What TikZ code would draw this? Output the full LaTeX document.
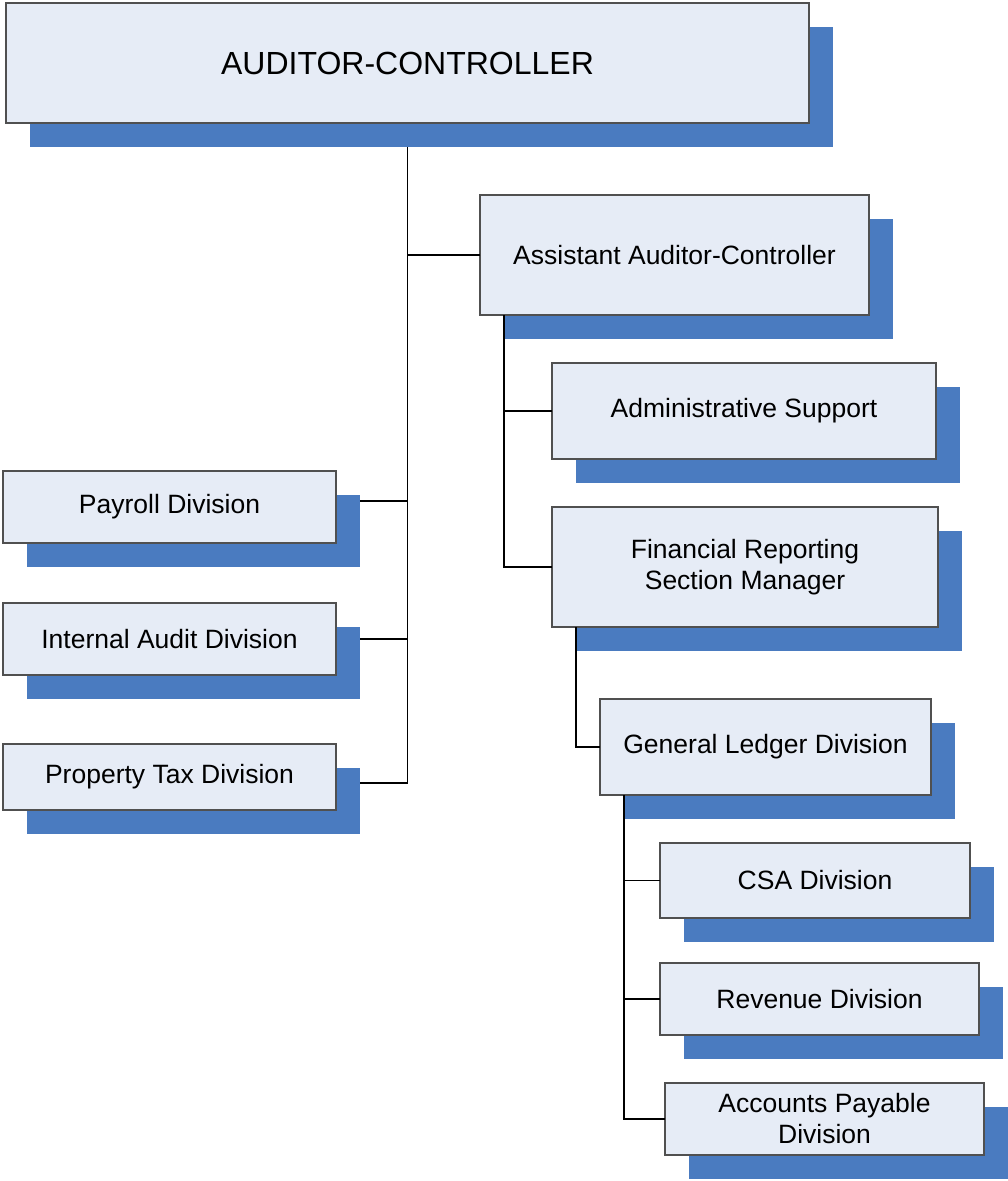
\documentclass[tikz,border=0pt]{standalone}
\usepackage{fontspec}
\setmainfont{Liberation Sans}
\usetikzlibrary{positioning, shadows}

\definecolor{boxfill}{HTML}{E6ECF6}
\definecolor{shadowblue}{HTML}{4A7BC0}
\definecolor{boxline}{HTML}{505050}

\begin{document}
\begin{tikzpicture}[
  every node/.style={align=center},
  block/.style={draw=boxline, line width=1.2pt, fill=boxfill,
    inner sep=0pt, outer sep=0pt,
    font=\fontsize{26.5}{31}\selectfont,
    drop shadow={shadow xshift=24pt, shadow yshift=-24pt, fill=shadowblue, opacity=1}},
  link/.style={line width=1.8pt},
]
\useasboundingbox (0,0) rectangle (1007pt,-1181pt);

% head of the office
\node [block, minimum width=803pt, minimum height=120pt, anchor=north west,
       font=\fontsize{32}{38}\selectfont] (ac) at (6pt,-3pt) {AUDITOR-CONTROLLER};

% left column
\node [block, minimum width=333pt, minimum height=72pt] (pay) [below right=348pt and -3pt of ac.south west] {Payroll Division};
\node [block, minimum width=333pt, minimum height=72pt] (ia) [below right=60pt and 0pt of pay.south west] {Internal Audit Division};
\node [block, minimum width=333pt, minimum height=66pt] (pt) [below right=69pt and 0pt of ia.south west] {Property Tax Division};

% assistant and his sections
\node [block, minimum width=389pt, minimum height=120pt] (asst) [below right=72pt and 474pt of ac.south west] {Assistant Auditor-Controller};
\node [block, minimum width=384pt, minimum height=96pt] (admin) [below right=48pt and 72pt of asst.south west] {Administrative Support};
\node [block, minimum width=386pt, minimum height=120pt] (frsm) [below right=48pt and 0pt of admin.south west] {Financial Reporting \\ Section Manager};
\node [block, minimum width=331pt, minimum height=96pt] (gl) [below right=72pt and 48pt of frsm.south west] {General Ledger Division};

% divisions under general ledger
\node [block, minimum width=310pt, minimum height=75pt] (csa) [below right=48pt and 60pt of gl.south west] {CSA Division};
\node [block, minimum width=319pt, minimum height=72pt] (rev) [below right=45pt and 0pt of csa.south west] {Revenue Division};
\node [block, minimum width=319pt, minimum height=72pt] (ap) [below right=48pt and 5pt of rev.south west] {Accounts Payable \\ Division};

% connectors
\coordinate (pay_in) at ([xshift=24pt, yshift=6pt]pay.east);
\coordinate (ia_in) at ([xshift=24pt]ia.east);
\coordinate (pt_in) at ([xshift=24pt, yshift=-6pt]pt.east);
\coordinate (asst_tr) at ([xshift=24pt]asst.south west);
\coordinate (gl_tr) at ([xshift=24pt]gl.south west);

\draw [link] ([yshift=-24pt]ac.south) -- (pt_in -| ac.south);
\draw [link] (asst.west) -- (asst.west -| ac.south);
\draw [link] (pay_in) -- (pay_in -| ac.south);
\draw [link] (ia_in) -- (ia_in -| ac.south);
\draw [link] (pt_in) -- (pt_in -| ac.south);

\draw [link] (asst_tr) |- (frsm.west);
\draw [link] (admin.west) -- (admin.west -| asst_tr);
\draw [link] ([xshift=24pt]frsm.south west) |- (gl.west);

\draw [link] (gl_tr) |- (ap.west);
\draw [link] (csa.west) -- (csa.west -| gl_tr);
\draw [link] (rev.west) -- (rev.west -| gl_tr);

\end{tikzpicture}
\end{document}
